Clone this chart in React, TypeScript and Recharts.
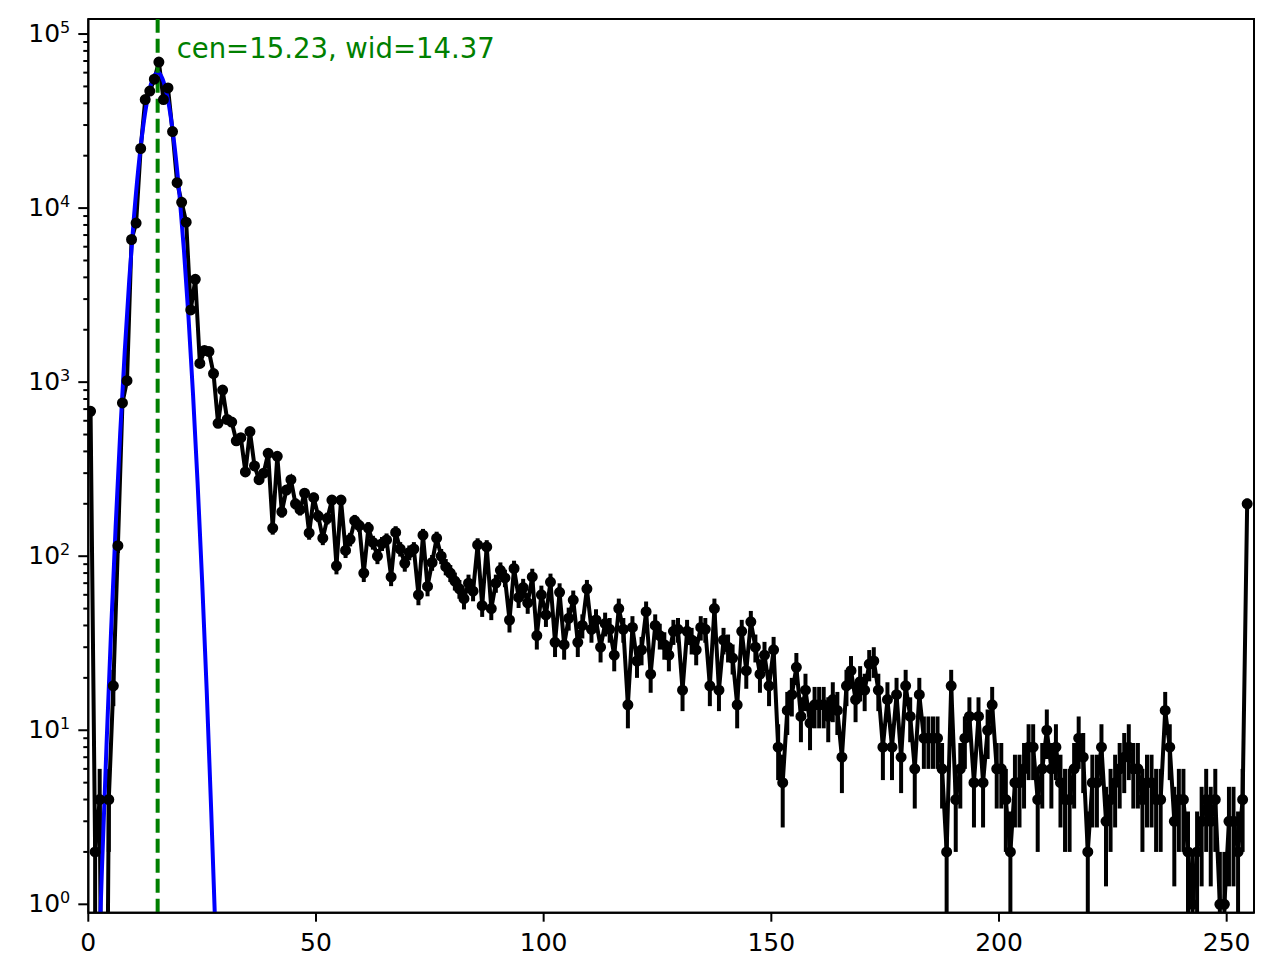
import React from 'react'
import { LineChart, Line, XAxis, YAxis, ErrorBar, ReferenceLine, ReferenceArea } from 'recharts'

// counts per bin, bins 0..254 (bin centre = index + 0.5)
const binCounts = [
  680, 2, 4, 0, 4, 18, 115, 760, 1020, 6600,
  8200, 22000, 42000, 47000, 55000, 69000, 42000, 49000, 27500, 14000,
  10800, 8300, 2600, 3900, 1280, 1520, 1500, 1120, 580, 900,
  610, 590, 460, 480, 305, 520, 330, 275, 300, 390,
  145, 375, 180, 240, 275, 200, 185, 230, 136, 217,
  170, 127, 165, 210, 88, 210, 108, 125, 160, 150,
  80, 145, 120, 100, 118, 124, 76, 137, 110, 91,
  105, 110, 60, 132, 67, 92, 127, 100, 87, 80,
  72, 65, 57, 70, 63, 116, 52, 113, 50, 70,
  83, 75, 43, 85, 58, 66, 54, 76, 35, 60,
  46, 71, 32, 62, 31, 44, 56, 32, 40, 65,
  38, 43, 30, 41, 38, 27, 50, 38, 14, 39,
  25, 29, 48, 21, 40, 35, 31, 27, 37, 38,
  17, 37, 33, 29, 39, 38, 18, 50, 17, 33,
  30, 26, 14, 37, 22, 42, 30, 21, 27, 18,
  29, 8, 5, 13, 16, 23, 12, 17, 11, 14,
  14, 14, 12, 15, 13, 7, 18, 22, 15, 19,
  17, 24, 25, 17, 8, 15, 8, 16, 7, 18,
  12, 6, 16, 9, 9, 9, 9, 6, 2, 18,
  4, 6, 9, 12, 5, 12, 5, 10, 14, 6,
  6, 4, 2, 5, 5, 6, 8, 8, 4, 6,
  10, 6, 8, 5, 4, 4, 6, 9, 7, 2,
  5, 5, 8, 3, 4, 5, 6, 7, 8, 6,
  6, 4, 5, 5, 4, 4, 13, 8, 3, 4,
  4, 2, 1, 2, 3, 4, 3, 4, 1, 1,
  3, 3, 2, 4, 200,
]

// gaussian fit curve
const fitX = [2, 3, 4, 5, 6, 7, 8, 9, 10, 11, 12, 13, 14, 15, 16, 17, 18, 19, 20, 21, 22, 23, 24, 25, 26, 27, 28]
const fitY = [
  0.26, 1.6, 8.2, 37, 147, 506, 1500, 3890, 8720, 17000, 28700, 42200, 53900, 59800,
  57500, 48100, 34900, 22000, 12100, 5740, 2370, 850, 265, 72, 17, 3.4, 0.6,
]

const fitCenter = 15.23
const fitWidth = 14.37

const xTicks = [0, 50, 100, 150, 200, 250]
const yMajorTicks = [1, 10, 100, 1000, 10000, 100000]

const X_MAX = 256
const Y_MIN = 0.895
const Y_MAX = 1.22e5
const ZERO_FLOOR = 1e-3 // zero counts dive off the bottom of the log axis

const FONT = '"DejaVu Sans", sans-serif'
const LW = 4

const yMinorTicks: number[] = []
for (let d = 1; d <= 10000; d *= 10) {
  for (let m = 2; m <= 9; m++) yMinorTicks.push(m * d)
}
const yTicks = [...yMajorTicks, ...yMinorTicks].sort((a, b) => a - b)

const histData = binCounts.map((n, i) => {
  const lo = Math.max(n - Math.sqrt(n), Y_MIN)
  return {
    x: i + 0.5,
    n: n > 0 ? n : ZERO_FLOOR,
    count: n,
    err: n > 0 ? [n - lo, Math.sqrt(n)] : [0, 0],
  }
})

const fitData = fitX.map((x, i) => ({ x, y: fitY[i] }))

function YTick(props: any) {
  const { x, y, payload } = props
  const v = payload.value
  const major = yMajorTicks.includes(v)
  const len = major ? 10 : 5
  return (
    <g>
      <line x1={x - len} x2={x} y1={y} y2={y} stroke="#000" strokeWidth={2} />
      {major && (
        <text x={x - 18} y={y + 8} textAnchor="end" fontSize={25} fontFamily={FONT} fill="#000">
          10
          <tspan dy={-9} fontSize={16}>
            {Math.round(Math.log10(v))}
          </tspan>
        </text>
      )}
    </g>
  )
}

function renderDot(p: any) {
  if (!(p.payload.count > 0)) return <g key={`d${p.index}`} />
  return <circle key={`d${p.index}`} cx={p.cx} cy={p.cy} r={4.5} fill="#000" stroke="#000" strokeWidth={2} />
}

function CenLabel(p: any) {
  const vb = p.viewBox
  return (
    <text x={vb.x + 19} y={vb.y + 39} fontSize={27.5} fontFamily={FONT} fill="#008000">
      {`cen=${fitCenter.toFixed(2)}, wid=${fitWidth.toFixed(2)}`}
    </text>
  )
}

const spine = { stroke: '#000', strokeWidth: 2 }

export default function App() {
  return (
    <div style={{ width: 1265, height: 972, fontFamily: FONT }}>
      <LineChart width={1265} height={972} margin={{ top: 11, right: 19, bottom: 17.3, left: 0.3 }}>
        <XAxis
          dataKey="x"
          type="number"
          domain={[0, X_MAX]}
          allowDataOverflow
          ticks={xTicks}
          interval={0}
          height={50}
          tickSize={9}
          tickMargin={12}
          axisLine={spine}
          tickLine={spine}
          tick={{ fontSize: 25, fill: '#000', fontFamily: FONT }}
        />
        <YAxis
          type="number"
          scale="log"
          domain={[Y_MIN, Y_MAX]}
          allowDataOverflow
          ticks={yTicks}
          interval={0}
          width={80}
          tickSize={0}
          tickMargin={0}
          tickLine={false}
          axisLine={spine}
          tick={<YTick />}
        />
        <ReferenceArea x1={0} x2={X_MAX} y1={Y_MIN} y2={Y_MAX} fill="none" stroke="#000" strokeWidth={2} />
        <Line
          data={histData}
          dataKey="n"
          type="linear"
          stroke="#000"
          strokeWidth={LW}
          dot={false}
          activeDot={false}
          isAnimationActive={false}
        >
          <ErrorBar dataKey="err" direction="y" width={0} stroke="#000" strokeWidth={LW} isAnimationActive={false} />
        </Line>
        <Line
          data={fitData}
          dataKey="y"
          type="natural"
          stroke="#0000ff"
          strokeWidth={LW}
          dot={false}
          activeDot={false}
          isAnimationActive={false}
        />
        <ReferenceLine x={fitCenter} stroke="#008000" strokeWidth={LW} strokeDasharray="14 6" label={CenLabel} />
        <Line
          data={histData}
          dataKey="n"
          stroke="none"
          dot={renderDot}
          activeDot={false}
          isAnimationActive={false}
        />
      </LineChart>
    </div>
  )
}
